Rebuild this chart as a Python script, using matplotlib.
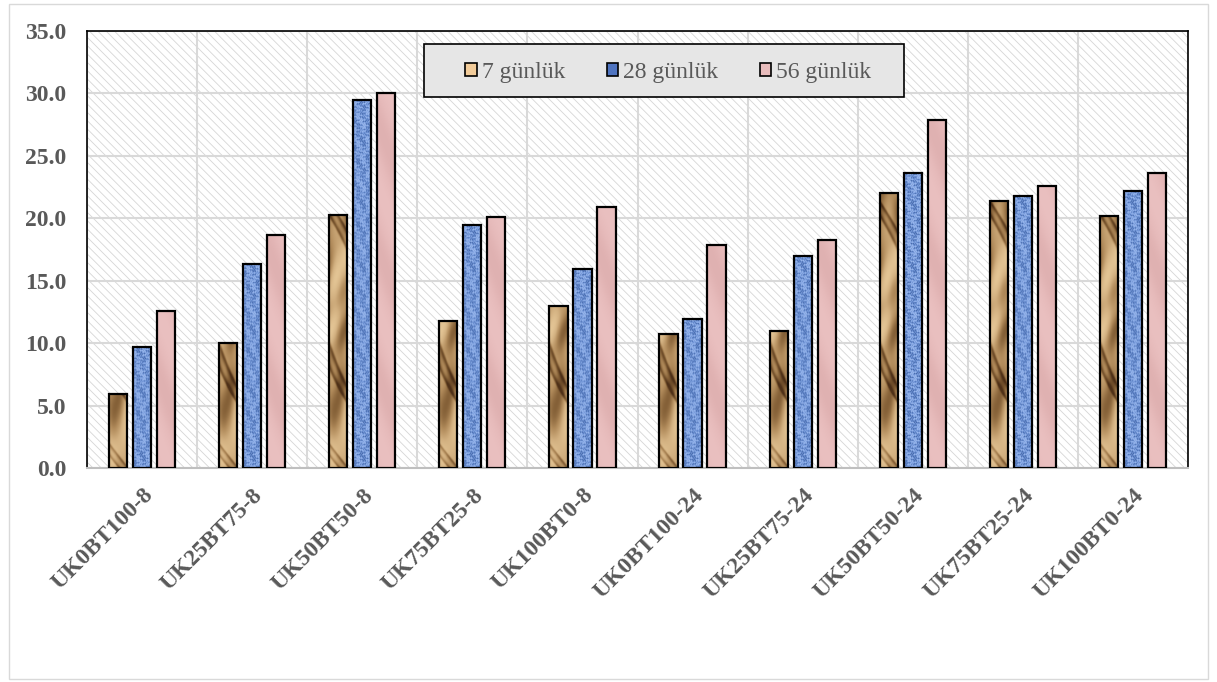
import numpy as np
import matplotlib.pyplot as plt
from matplotlib.patches import Rectangle
from matplotlib.colors import LinearSegmentedColormap

plt.rcParams['font.family'] = ['Liberation Serif', 'DejaVu Serif']
plt.rcParams['hatch.linewidth'] = 0.6
plt.rcParams['hatch.color'] = '#d6d6d6'

mixes = ['UK0BT100-8', 'UK25BT75-8', 'UK50BT50-8', 'UK75BT25-8', 'UK100BT0-8',
         'UK0BT100-24', 'UK25BT75-24', 'UK50BT50-24', 'UK75BT25-24', 'UK100BT0-24']
series = ['7 günlük', '28 günlük', '56 günlük']
day7 = [5.9, 10.0, 20.3, 11.8, 13.0, 10.7, 11.0, 22.0, 21.4, 20.2]
day28 = [9.7, 16.3, 29.5, 19.5, 15.9, 11.9, 17.0, 23.6, 21.8, 22.2]
day56 = [12.6, 18.7, 30.0, 20.1, 20.9, 17.9, 18.3, 27.9, 22.6, 23.6]

text_gray = '#595959'

# colour ramps used for the bar fill textures
wood = LinearSegmentedColormap.from_list('wood', ['#4e3018', '#7e5a32', '#b08a5a', '#d2b080', '#e6c898'])
denim = LinearSegmentedColormap.from_list('denim', ['#2c4c8c', '#5a80c4', '#86a8e6', '#a4c0f0'])
rose = LinearSegmentedColormap.from_list('rose', ['#d9a8a8', '#e6baba', '#eec6c6'])


def texture(kind, h, ncols=24):
    rows = max(int(h * 12.5), 2)
    yy, xx = np.mgrid[0:rows, 0:ncols].astype(float)
    if kind == 'wood':
        # crumpled paper look: soft folds with a few dark creases
        a = np.sin(yy * 0.045 + 1.8 * np.sin(xx * 0.12 + yy * 0.013))
        b = np.sin(yy * 0.11 - xx * 0.18 + 1.2 * np.cos(yy * 0.031))
        v = 0.62 + 0.22 * a + 0.12 * b
        crease = np.exp(-((np.sin(yy * 0.06 + xx * 0.09 + 1.5 * np.sin(yy * 0.02)) - 0.9) ** 2) / 0.01)
        v = v - 0.45 * crease
    elif kind == 'denim':
        v = np.sin(xx * 1.3 + np.sin(yy * 0.7) * 2.0) * np.sin(yy * 0.9 + np.cos(xx * 0.8) * 2.0)
        v = 0.55 + 0.45 * v
    else:
        v = 0.5 + 0.25 * np.sin(yy * 0.05 + xx * 0.1)
    return np.clip(v, 0, 1)


fig = plt.figure(figsize=(12.17, 6.82), dpi=100)
ax = fig.add_axes([0.0715, 0.3138, 0.9047, 0.6407])

# outer chart frame
fig.patches.append(Rectangle((0.007, 0.004), 0.986, 0.99, transform=fig.transFigure,
                             fill=False, edgecolor='#d9d9d9', linewidth=1.0))

# hatched plot background
ax.set_facecolor('white')
ax.add_patch(Rectangle((0, 0), 1, 1, transform=ax.transAxes, facecolor='white',
                       hatch='\\\\\\\\', edgecolor='#d6d6d6', linewidth=0, zorder=0))

x = np.arange(len(mixes))
width = 0.165
step = 0.218
groups = [(day7, 'wood', wood), (day28, 'denim', denim), (day56, 'rose', rose)]
swatch = ['#f2cc9a', '#4f74c0', '#e8bcbc']

for i, (vals, kind, cmap) in enumerate(groups):
    pos = x + (i - 1) * step
    bars = ax.bar(pos, vals, width=width, color=cmap(0.6), edgecolor='none', zorder=3)
    for b, v in zip(bars, vals):
        x0 = b.get_x()
        im = ax.imshow(texture(kind, v), extent=[x0, x0 + width, 0, v], origin='lower',
                       aspect='auto', cmap=cmap, vmin=0, vmax=1, zorder=3.5,
                       interpolation='bilinear')
        im.set_clip_path(b)
    ax.bar(pos, vals, width=width, facecolor='none', edgecolor='black', linewidth=1.6, zorder=4)
    # legend proxy
    ax.bar([np.nan], [np.nan], color=swatch[i], edgecolor='black', linewidth=1.2, label=series[i])

ax.set_xlim(-0.5, len(mixes) - 0.5)
ax.set_ylim(0, 35)
ax.set_yticks(np.arange(0, 35.1, 5))
ax.set_yticklabels([f'{t:.1f}' for t in np.arange(0, 35.1, 5)])
ax.set_xticks(x)
ax.set_xticklabels(mixes, rotation=45, ha='right', rotation_mode='anchor')
ax.set_xticks(np.arange(-0.5, len(mixes), 1), minor=True)

ax.grid(axis='y', color='#d9d9d9', linewidth=1.5, zorder=1)
ax.grid(axis='x', which='minor', color='#d9d9d9', linewidth=1.5, zorder=1)
ax.set_axisbelow(True)

ax.tick_params(axis='both', which='both', length=0)
ax.tick_params(axis='y', pad=15, labelsize=17, labelcolor=text_gray)
ax.tick_params(axis='x', pad=12, labelsize=17, labelcolor=text_gray)
for lbl in ax.get_xticklabels() + ax.get_yticklabels():
    lbl.set_fontweight('bold')

for side in ['left', 'top', 'right']:
    ax.spines[side].set_color('black')
    ax.spines[side].set_linewidth(1.2)
ax.spines['bottom'].set_color('#bfbfbf')
ax.spines['bottom'].set_linewidth(1.5)

# legend box drawn separately so the padding around the entries can be wider
ax.add_patch(Rectangle((0.306, 0.849), 0.436, 0.121, transform=ax.transAxes,
                       facecolor='#e6e6e6', edgecolor='black', linewidth=1.2, zorder=5))
leg = ax.legend(loc='center', bbox_to_anchor=(0.528, 0.905), ncol=3, frameon=False,
                fontsize=17, handlelength=0.5, handleheight=0.5,
                handletextpad=0.2, columnspacing=1.75, borderpad=0, borderaxespad=0)
leg.set_zorder(6)
for t in leg.get_texts():
    t.set_color(text_gray)

fig.savefig('out.png', dpi=100)
